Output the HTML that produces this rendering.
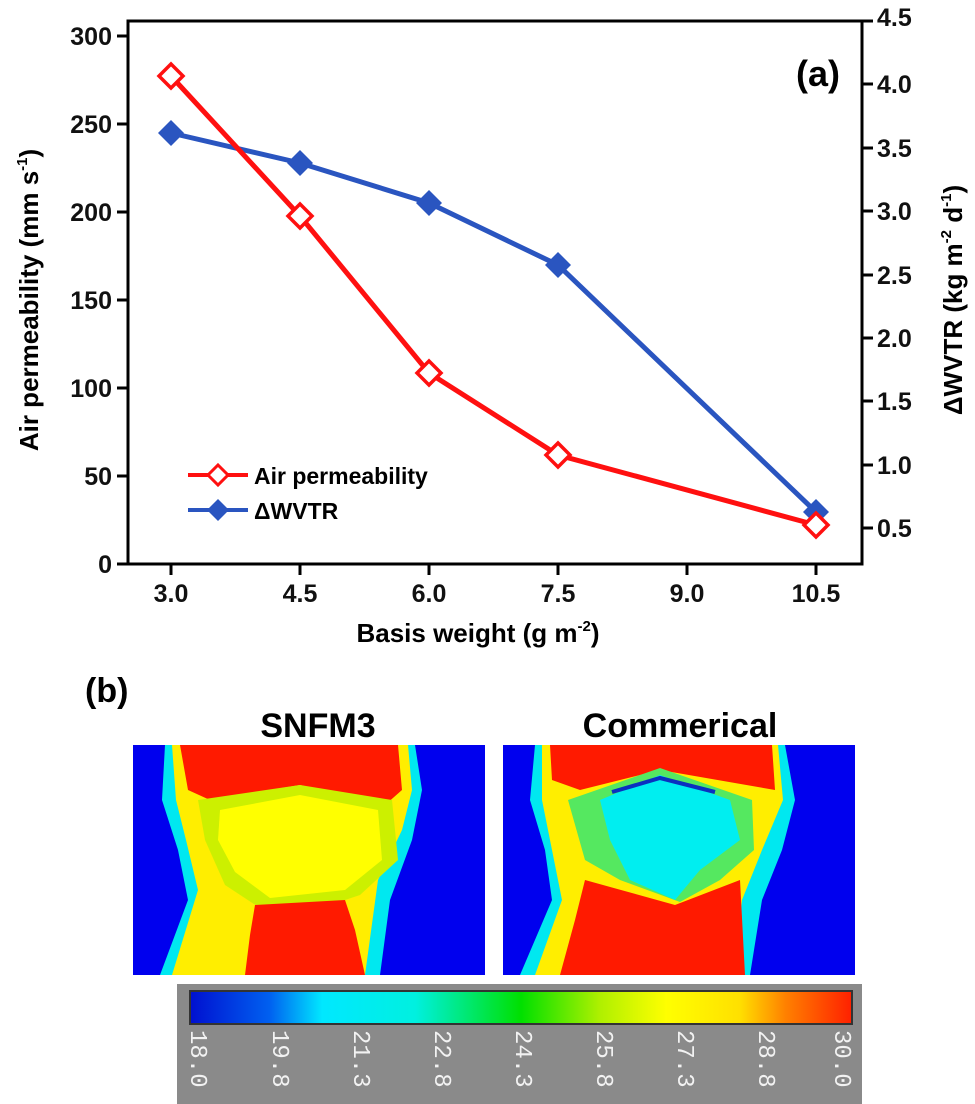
<!DOCTYPE html>
<html><head><meta charset="utf-8"><style>
html,body{margin:0;padding:0;background:#fff;}
svg{display:block;font-family:"Liberation Sans",Arial,sans-serif;}
</style></head><body>
<svg width="975" height="1104" viewBox="0 0 975 1104" xmlns="http://www.w3.org/2000/svg">
<defs>
<linearGradient id="cb" x1="0" x2="1" y1="0" y2="0">
<stop offset="0" stop-color="#0010d0"/><stop offset="0.12" stop-color="#0060f0"/>
<stop offset="0.2" stop-color="#00e8ff"/><stop offset="0.34" stop-color="#00f0e0"/>
<stop offset="0.5" stop-color="#00e000"/><stop offset="0.62" stop-color="#b0f000"/>
<stop offset="0.72" stop-color="#ffff00"/><stop offset="0.83" stop-color="#ffe000"/>
<stop offset="0.9" stop-color="#ff8000"/><stop offset="1" stop-color="#ff2000"/>
</linearGradient>
</defs>
<rect x="128" y="21" width="734" height="543" fill="none" stroke="#000" stroke-width="3"/>
<g stroke="#000" stroke-width="3">
<line x1="117" y1="36" x2="128" y2="36"/><line x1="117" y1="124" x2="128" y2="124"/>
<line x1="117" y1="212" x2="128" y2="212"/><line x1="117" y1="300" x2="128" y2="300"/>
<line x1="117" y1="388" x2="128" y2="388"/><line x1="117" y1="476" x2="128" y2="476"/>
<line x1="117" y1="564" x2="128" y2="564"/>
<line x1="171" y1="564" x2="171" y2="575"/><line x1="300" y1="564" x2="300" y2="575"/>
<line x1="429" y1="564" x2="429" y2="575"/><line x1="558" y1="564" x2="558" y2="575"/>
<line x1="687" y1="564" x2="687" y2="575"/><line x1="816" y1="564" x2="816" y2="575"/>
<line x1="862" y1="21" x2="873" y2="21"/><line x1="862" y1="84" x2="873" y2="84"/>
<line x1="862" y1="148" x2="873" y2="148"/><line x1="862" y1="211" x2="873" y2="211"/>
<line x1="862" y1="275" x2="873" y2="275"/><line x1="862" y1="338" x2="873" y2="338"/>
<line x1="862" y1="401" x2="873" y2="401"/><line x1="862" y1="465" x2="873" y2="465"/>
<line x1="862" y1="528" x2="873" y2="528"/>
</g>
<g font-size="25" font-weight="bold" text-anchor="end" fill="#111">
<text x="112" y="45">300</text><text x="112" y="133">250</text><text x="112" y="221">200</text>
<text x="112" y="309">150</text><text x="112" y="397">100</text><text x="112" y="485">50</text>
<text x="112" y="573">0</text>
</g>
<g font-size="25" font-weight="bold" text-anchor="start" fill="#111">
<text x="877" y="26">4.5</text><text x="877" y="93">4.0</text><text x="877" y="157">3.5</text>
<text x="877" y="220">3.0</text><text x="877" y="284">2.5</text><text x="877" y="347">2.0</text>
<text x="877" y="410">1.5</text><text x="877" y="474">1.0</text><text x="877" y="537">0.5</text>
</g>
<g font-size="25" font-weight="bold" text-anchor="middle" fill="#111">
<text x="171" y="602">3.0</text><text x="300" y="602">4.5</text><text x="429" y="602">6.0</text>
<text x="558" y="602">7.5</text><text x="687" y="602">9.0</text><text x="816" y="602">10.5</text>
</g>
<text x="478" y="642" font-size="26" font-weight="bold" text-anchor="middle">Basis weight (g m<tspan font-size="15" dy="-11">-2</tspan><tspan dy="11">)</tspan></text>
<text transform="translate(38,300) rotate(-90)" font-size="26" font-weight="bold" text-anchor="middle">Air permeability (mm s<tspan font-size="15" dy="-11">-1</tspan><tspan dy="11">)</tspan></text>
<text transform="translate(962,300) rotate(-90)" font-size="26" font-weight="bold" text-anchor="middle">ΔWVTR (kg m<tspan font-size="15" dy="-11">-2</tspan><tspan dy="11"> d</tspan><tspan font-size="15" dy="-11">-1</tspan><tspan dy="11">)</tspan></text>
<text x="840" y="86" font-size="36" font-weight="bold" text-anchor="end">(a)</text>
<polyline points="171,133 300,163 429,203 558,265 816,512" fill="none" stroke="#2a55c0" stroke-width="5"/>
<polyline points="171,76 300,216 429,373 558,455 816,525" fill="none" stroke="#ff1010" stroke-width="5"/>
<g fill="#2a55c0">
<polygon points="171,120 184,133 171,146 158,133"/><polygon points="300,150 313,163 300,176 287,163"/>
<polygon points="429,190 442,203 429,216 416,203"/><polygon points="558,252 571,265 558,278 545,265"/>
<polygon points="816,499 829,512 816,525 803,512"/>
</g>
<g fill="#fff" stroke="#ff1010" stroke-width="3.5">
<polygon points="171,64 183,76 171,88 159,76"/><polygon points="300,204 312,216 300,228 288,216"/>
<polygon points="429,361 441,373 429,385 417,373"/><polygon points="558,443 570,455 558,467 546,455"/>
<polygon points="816,513 828,525 816,537 804,525"/>
</g>
<line x1="188" y1="475" x2="248" y2="475" stroke="#ff1010" stroke-width="4"/>
<polygon points="218,465 228,475 218,485 208,475" fill="#fff" stroke="#ff1010" stroke-width="3"/>
<text x="254" y="484" font-size="23" font-weight="bold">Air permeability</text>
<line x1="188" y1="510" x2="248" y2="510" stroke="#2a55c0" stroke-width="4"/>
<polygon points="218,499 229,510 218,521 207,510" fill="#2a55c0"/>
<text x="254" y="519" font-size="23" font-weight="bold">ΔWVTR</text>
<text x="85" y="702" font-size="34" font-weight="bold">(b)</text>
<text x="318" y="737" font-size="34" font-weight="bold" text-anchor="middle">SNFM3</text>
<text x="680" y="737" font-size="34" font-weight="bold" text-anchor="middle">Commerical</text>
<g>
<rect x="133" y="745" width="352" height="230" fill="#0000ee"/>
<path d="M165,745 L415,745 L422,790 L412,840 L390,900 L380,975 L160,975 L188,900 L178,850 L162,800 Z" fill="#00e8f0"/>
<path d="M172,745 L408,745 L412,790 L402,830 L378,880 L365,975 L172,975 L198,890 L186,840 L176,800 Z" fill="#ffee00"/>
<path d="M180,745 L398,745 L402,790 L385,805 L300,785 L210,800 L188,790 Z" fill="#ff1a00"/>
<path d="M198,800 L300,785 L392,800 L398,860 L360,895 L330,905 L260,908 L225,885 L205,840 Z" fill="#ccf000"/>
<path d="M220,810 L300,795 L378,810 L382,860 L345,890 L270,898 L235,872 L218,840 Z" fill="#ffff00"/>
<path d="M255,905 L345,900 L355,930 L365,975 L245,975 L250,935 Z" fill="#ff1a00"/>
</g>
<g>
<rect x="503" y="745" width="352" height="230" fill="#0000ee"/>
<path d="M535,745 L785,745 L795,800 L782,850 L762,900 L750,975 L520,975 L552,900 L545,850 L530,800 Z" fill="#00e8f0"/>
<path d="M542,745 L778,745 L783,800 L762,850 L742,900 L735,975 L535,975 L562,900 L552,850 L542,800 Z" fill="#ffee00"/>
<path d="M550,745 L772,745 L775,790 L660,770 L580,790 L552,780 Z" fill="#ff1a00"/>
<path d="M568,800 L660,768 L752,800 L754,850 L720,880 L680,902 L620,880 L585,860 Z" fill="#55e860"/>
<path d="M600,800 L660,775 L730,800 L740,840 L700,870 L675,900 L630,880 L610,840 Z" fill="#00eef0"/>
<path d="M612,792 L660,778 L715,792" fill="none" stroke="#0a30c0" stroke-width="4"/>
<path d="M585,880 L675,905 L740,880 L745,975 L560,975 L575,920 Z" fill="#ff1a00"/>
</g>
<rect x="177" y="984" width="685" height="120" fill="#8a8a8a"/>
<rect x="190" y="991" width="662" height="33" fill="url(#cb)" stroke="#333" stroke-width="2"/>
<g font-size="24" fill="#f2f2f2" font-family="Liberation Mono,monospace">
<text transform="translate(191,1030) rotate(90)">18.0</text>
<text transform="translate(273,1030) rotate(90)">19.8</text>
<text transform="translate(354,1030) rotate(90)">21.3</text>
<text transform="translate(435,1030) rotate(90)">22.8</text>
<text transform="translate(516,1030) rotate(90)">24.3</text>
<text transform="translate(597,1030) rotate(90)">25.8</text>
<text transform="translate(678,1030) rotate(90)">27.3</text>
<text transform="translate(759,1030) rotate(90)">28.8</text>
<text transform="translate(835,1030) rotate(90)">30.0</text>
</g>
</svg>
</body></html>
